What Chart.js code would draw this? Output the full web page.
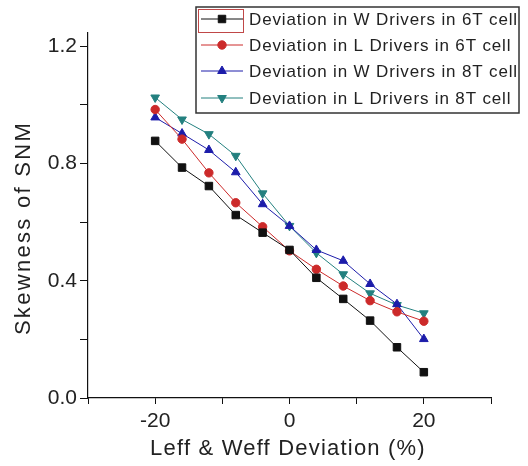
<!DOCTYPE html>
<html>
<head>
<meta charset="utf-8">
<title>Skewness of SNM</title>
<script src="https://cdn.jsdelivr.net/npm/chart.js@4"></script>
<style>
  html, body { margin: 0; padding: 0; background: #fff; }
  #wrap { width: 528px; height: 466px; }
</style>
</head>
<body>
<div id="wrap"><canvas id="snmChart" width="528" height="466"></canvas></div>
<script>
// values
const deviation = [-20, -16, -12, -8, -4, 0, 4, 8, 12, 16, 20];
const wDrivers6T = [0.877, 0.786, 0.723, 0.624, 0.564, 0.505, 0.410, 0.338, 0.264, 0.173, 0.088];
const lDrivers6T = [0.984, 0.883, 0.768, 0.666, 0.584, 0.502, 0.439, 0.382, 0.332, 0.294, 0.262];
const wDrivers8T = [0.957, 0.902, 0.846, 0.770, 0.661, 0.587, 0.505, 0.468, 0.389, 0.320, 0.201];
const lDrivers8T = [1.025, 0.950, 0.900, 0.826, 0.698, 0.587, 0.495, 0.422, 0.357, 0.317, 0.289];

const seriesLabels = [
  'Deviation in W Drivers in 6T cell',
  'Deviation in L Drivers in 6T cell',
  'Deviation in W Drivers in 8T cell',
  'Deviation in L Drivers in 8T cell'
];
const xTickLabels = [-20, 0, 20];
const yTickLabels = ['0.0', '0.4', '0.8', '1.2'];

const toPoints = vals => vals.map((v, i) => ({ x: deviation[i], y: v }));

const makeSet = (label, vals, color, style, radius, rotation) => ({
  label: label,
  data: toPoints(vals),
  borderColor: color,
  backgroundColor: color,
  pointBackgroundColor: color,
  pointBorderColor: color,
  borderWidth: 1,
  pointStyle: style,
  pointRadius: radius,
  pointRotation: rotation,
  pointBorderWidth: 1,
  tension: 0
});

const datasets = [
  makeSet(seriesLabels[0], wDrivers6T, '#111111', 'rect', 5.3, 0),
  makeSet(seriesLabels[1], lDrivers6T, '#cc2a2a', 'circle', 4.2, 0),
  makeSet(seriesLabels[2], wDrivers8T, '#1c1caa', 'triangle', 5, 0),
  makeSet(seriesLabels[3], lDrivers8T, '#23807f', 'triangle', 5, 180)
];

// axis titles and the boxed legend, drawn on top of the chart
const decorPlugin = {
  id: 'decor',
  afterDraw(chart) {
    const ctx = chart.ctx;
    ctx.save();
    ctx.fillStyle = '#222';
    ctx.textBaseline = 'middle';
    ctx.textAlign = 'center';

    ctx.font = '22px "Liberation Sans", Arial, sans-serif';
    ctx.letterSpacing = '1.2px';
    ctx.fillText('Leff & Weff Deviation (%)', 288, 449);

    ctx.save();
    ctx.translate(24, 228);
    ctx.rotate(-Math.PI / 2);
    ctx.letterSpacing = '2.3px';
    ctx.fillText('Skewness of SNM', 0, 0);
    ctx.restore();

    // legend box
    const box = { x: 196, y: 7, w: 323, h: 106 };
    ctx.fillStyle = '#fff';
    ctx.fillRect(box.x, box.y, box.w, box.h);
    ctx.strokeStyle = '#333';
    ctx.lineWidth = 1.5;
    ctx.strokeRect(box.x, box.y, box.w, box.h);

    // selection highlight around first sample
    ctx.strokeStyle = '#c04848';
    ctx.lineWidth = 1;
    ctx.strokeRect(198.5, 9.5, 45, 23);

    const rowY = [19, 45, 71, 98];
    ctx.font = '17px "Liberation Sans", Arial, sans-serif';
    ctx.letterSpacing = '0.85px';
    ctx.textAlign = 'left';
    chart.data.datasets.forEach((ds, i) => {
      const y = rowY[i];
      ctx.strokeStyle = ds.borderColor;
      ctx.lineWidth = 1;
      ctx.beginPath();
      ctx.moveTo(201, y);
      ctx.lineTo(243, y);
      ctx.stroke();
      ctx.fillStyle = ds.borderColor;
      Chart.helpers.drawPoint(ctx, {
        pointStyle: ds.pointStyle,
        radius: ds.pointRadius,
        rotation: ds.pointRotation,
        borderWidth: 1
      }, 222, y);
      ctx.fillStyle = '#222';
      ctx.fillText(ds.label, 249, y + 1);
    });
    ctx.restore();
  }
};

const tickFont = { family: '"Liberation Sans", Arial, sans-serif', size: 21 };

new Chart(document.getElementById('snmChart').getContext('2d'), {
  type: 'line',
  data: { datasets: datasets },
  options: {
    responsive: false,
    animation: false,
    layout: { padding: { top: 33, right: 37, left: 0, bottom: 0 } },
    plugins: {
      legend: { display: false },
      tooltip: { enabled: false }
    },
    scales: {
      x: {
        type: 'linear',
        min: -30,
        max: 30,
        grid: { drawOnChartArea: false, drawTicks: true, tickLength: 6, color: '#111', lineWidth: 1 },
        border: { display: true, color: '#111', width: 1.2 },
        ticks: {
          stepSize: 10,
          autoSkip: false,
          maxRotation: 0,
          padding: 5,
          color: '#222',
          font: tickFont,
          callback: v => (xTickLabels.includes(v) ? String(v) : '')
        },
        afterFit: scale => { scale.height = 68; }
      },
      y: {
        type: 'linear',
        min: 0,
        max: 1.245,
        grid: { drawOnChartArea: false, drawTicks: true, tickLength: 8, color: '#111', lineWidth: 1 },
        border: { display: true, color: '#111', width: 1.2 },
        ticks: {
          stepSize: 0.2,
          includeBounds: false,
          autoSkip: false,
          padding: 3,
          color: '#222',
          font: tickFont,
          callback: v => {
            const s = v.toFixed(1);
            return yTickLabels.includes(s) ? s : '';
          }
        },
        afterFit: scale => { scale.width = 88; }
      }
    }
  },
  plugins: [decorPlugin]
});
</script>
</body>
</html>
